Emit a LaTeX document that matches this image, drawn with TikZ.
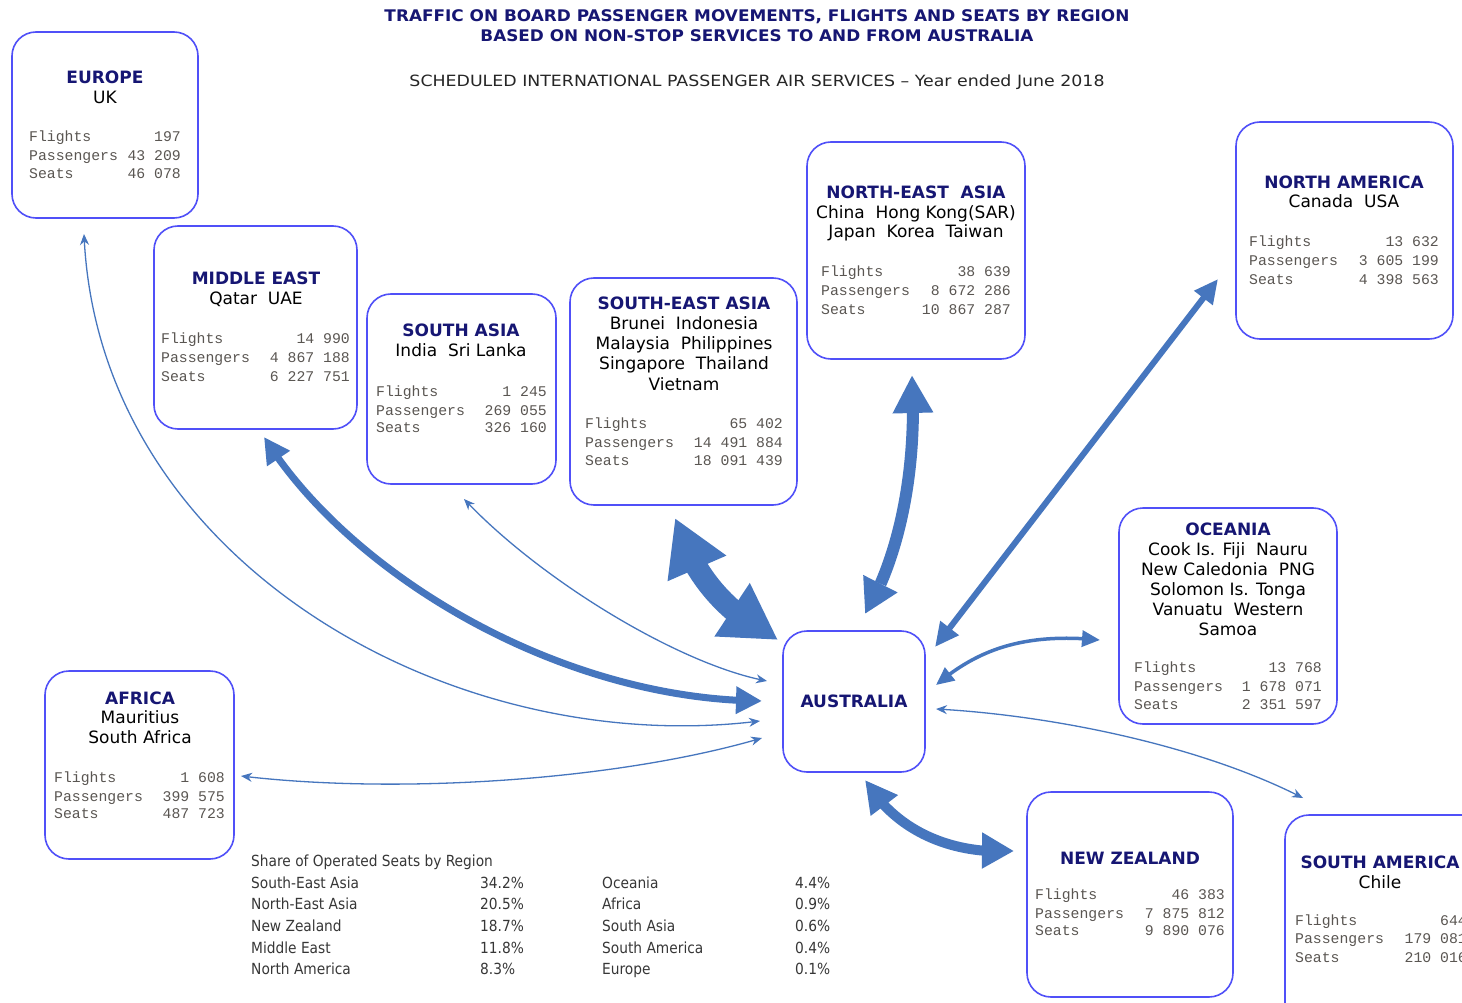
\documentclass[tikz,border=0pt]{standalone}
\usepackage{fontspec}
\setmainfont{DejaVu Sans}
\newfontfamily\condfont{DejaVu Sans Condensed}
\newfontfamily\monofont{Liberation Mono}
\usetikzlibrary{arrows.meta,bending}
\definecolor{boxblue}{RGB}{80,80,248}
\definecolor{navyc}{RGB}{22,22,115}
\definecolor{arrowblue}{RGB}{70,118,190}
\definecolor{statgray}{RGB}{90,86,82}
\definecolor{tablegray}{RGB}{55,55,55}
\newcommand{\statblk}[9]{%
 \node[lab] (#1-fl) at (#2,#4) {Flights};
 \node[num] (#1-fv) at (#3,#4) {#7};
 \node[lab] (#1-pl) at (#2,#5) {Passengers};
 \node[num] (#1-pv) at (#3,#5) {#8};
 \node[lab] (#1-sl) at (#2,#6) {Seats};
 \node[num] (#1-sv) at (#3,#6) {#9};
}
\tikzset{
 regbox/.style={draw=boxblue, line width=1.6pt, rounded corners=24pt, fill=white, inner sep=0pt},
 head/.style={font=\bfseries\fontsize{17}{20}\selectfont, text=navyc, anchor=mid, inner sep=0pt, yshift=-4pt},
 ctry/.style={font=\fontsize{17}{20}\selectfont, text=black, anchor=mid, inner sep=0pt, yshift=-4pt},
 lab/.style={font=\monofont\fontsize{14.8}{18}\selectfont, text=statgray, anchor=mid west, inner sep=0pt, yshift=-3pt},
 num/.style={font=\monofont\fontsize{14.8}{18}\selectfont, text=statgray, anchor=mid east, inner sep=0pt, yshift=-3pt},
 ttl/.style={font=\bfseries\fontsize{16}{20}\selectfont, text=navyc, anchor=mid, inner sep=0pt, yshift=-4pt},
 sub/.style={font=\fontsize{15.5}{20}\selectfont, text=black!85, anchor=mid, inner sep=0pt, yshift=-4pt},
 tab/.style={font=\condfont\fontsize{15.3}{18}\selectfont, text=tablegray, anchor=mid west, inner sep=0pt, yshift=-3pt},
 thinarr/.style={draw=arrowblue, line width=1.3pt, {Stealth[length=11pt,width=9pt]}-{Stealth[length=11pt,width=9pt]}},
 flowarr/.style={draw=arrowblue, line width=#1},
}
\begin{document}
\begin{tikzpicture}[x=1pt,y=-1pt]
\fill[white] (0,0) rectangle (1462,1003);
\useasboundingbox (0,0) rectangle (1462,1003);

% titles
\node[ttl] (t1) at (757,15) {\resizebox{745pt}{\height}{TRAFFIC ON BOARD PASSENGER MOVEMENTS, FLIGHTS AND SEATS BY REGION}};
\node[ttl] (t2) at (757,35) {\resizebox{553pt}{\height}{BASED ON NON-STOP SERVICES TO AND FROM AUSTRALIA}};
\node[sub] (t3) at (757,80) {\resizebox{695pt}{\height}{SCHEDULED INTERNATIONAL PASSENGER AIR SERVICES – Year ended June 2018}};

% boxes
\node[regbox, minimum width=186pt, minimum height=186pt] (eu) at (105,125) {};
\node[regbox, minimum width=203pt, minimum height=203pt] (me) at (255.5,327.5) {};
\node[regbox, minimum width=189pt, minimum height=190pt] (sa) at (461.5,389) {};
\node[regbox, minimum width=227pt, minimum height=227pt] (sea) at (683.5,391.5) {};
\node[regbox, minimum width=218pt, minimum height=217pt] (nea) at (916,250.5) {};
\node[regbox, minimum width=217pt, minimum height=217pt] (na) at (1344.5,230.5) {};
\node[regbox, minimum width=218pt, minimum height=216pt] (oc) at (1228,616) {};
\node[regbox, minimum width=189pt, minimum height=188pt] (af) at (139.5,765) {};
\node[regbox, minimum width=142pt, minimum height=141pt] (au) at (854,701.5) {};
\node[regbox, minimum width=206pt, minimum height=205pt] (nz) at (1130,894.5) {};
\node[regbox, minimum width=215pt, minimum height=225pt] (sam) at (1392.5,927.5) {};

% Europe
\node[head] (eu-h) at (105,77) {EUROPE};
\node[ctry] (eu-c1) at (105,97) {UK};
\statblk{eu}{29}{181}{136}{155}{173}{197}{43 209}{46 078}
% Middle East
\node[head] (me-h) at (256,278) {MIDDLE EAST};
\node[ctry] (me-c1) at (256,298) {Qatar\ \ UAE};
\statblk{me}{161}{350}{338}{357}{376}{14 990}{4 867 188}{6 227 751}
% South Asia
\node[head] (sa-h) at (461,330) {SOUTH ASIA};
\node[ctry] (sa-c1) at (461,350) {India\ \ Sri Lanka};
\statblk{sa}{376}{547}{391}{410}{427}{1 245}{269 055}{326 160}
% South-East Asia
\node[head] (sea-h) at (684,303) {SOUTH-EAST ASIA};
\node[ctry] (sea-c1) at (684,323) {Brunei\ \ Indonesia};
\node[ctry] (sea-c2) at (684,343) {Malaysia\ \ Philippines};
\node[ctry] (sea-c3) at (684,363) {Singapore\ \ Thailand};
\node[ctry] (sea-c4) at (684,384) {Vietnam};
\statblk{sea}{585}{783}{423}{442}{460}{65 402}{14 491 884}{18 091 439}
% North-East Asia
\node[head] (nea-h) at (916,192) {NORTH-EAST\ \ ASIA};
\node[ctry] (nea-c1) at (916,212) {China\ \ Hong Kong(SAR)};
\node[ctry] (nea-c2) at (916,231) {Japan\ \ Korea\ \ Taiwan};
\statblk{nea}{821}{1011}{271}{290}{309}{38 639}{8 672 286}{10 867 287}
% North America
\node[head] (na-h) at (1344,182) {NORTH AMERICA};
\node[ctry] (na-c1) at (1344,201) {Canada\ \ USA};
\statblk{na}{1249}{1439}{241}{260}{279}{13 632}{3 605 199}{4 398 563}
% Oceania
\node[head] (oc-h) at (1228,529) {OCEANIA};
\node[ctry] (oc-c1) at (1228,549) {Cook Is. Fiji\ \ Nauru};
\node[ctry] (oc-c2) at (1228,569) {New Caledonia\ \ PNG};
\node[ctry] (oc-c3) at (1228,589) {Solomon Is. Tonga};
\node[ctry] (oc-c4) at (1228,609) {Vanuatu\ \ Western};
\node[ctry] (oc-c5) at (1228,629) {Samoa};
\statblk{oc}{1134}{1322}{667}{686}{704}{13 768}{1 678 071}{2 351 597}
% Africa
\node[head] (af-h) at (140,698) {AFRICA};
\node[ctry] (af-c1) at (140,717) {Mauritius};
\node[ctry] (af-c2) at (140,737) {South Africa};
\statblk{af}{54}{225}{777}{796}{813}{1 608}{399 575}{487 723}
% Australia
\node[head] (au-h) at (854,701) {AUSTRALIA};
% New Zealand
\node[head] (nz-h) at (1130,858) {NEW ZEALAND};
\statblk{nz}{1035}{1225}{894}{913}{930}{46 383}{7 875 812}{9 890 076}
% South America
\node[head] (sam-h) at (1380,862) {SOUTH AMERICA};
\node[ctry] (sam-c1) at (1380,882) {Chile};
\statblk{sam}{1295}{1467}{920}{938}{957}{644}{179 081}{210 016}

% table
\node[tab] (tb-h) at (251,861) {Share of Operated Seats by Region};
\node[tab] (tb-a1) at (251,883) {South-East Asia};
\node[tab] (tb-a2) at (251,904) {North-East Asia};
\node[tab] (tb-a3) at (251,926) {New Zealand};
\node[tab] (tb-a4) at (251,948) {Middle East};
\node[tab] (tb-a5) at (251,969) {North America};
\node[tab] (tb-b1) at (480,883) {34.2\%};
\node[tab] (tb-b2) at (480,904) {20.5\%};
\node[tab] (tb-b3) at (480,926) {18.7\%};
\node[tab] (tb-b4) at (480,948) {11.8\%};
\node[tab] (tb-b5) at (480,969) {8.3\%};
\node[tab] (tb-c1) at (602,883) {Oceania};
\node[tab] (tb-c2) at (602,904) {Africa};
\node[tab] (tb-c3) at (602,926) {South Asia};
\node[tab] (tb-c4) at (602,948) {South America};
\node[tab] (tb-c5) at (602,969) {Europe};
\node[tab] (tb-d1) at (795,883) {4.4\%};
\node[tab] (tb-d2) at (795,904) {0.9\%};
\node[tab] (tb-d3) at (795,926) {0.6\%};
\node[tab] (tb-d4) at (795,948) {0.4\%};
\node[tab] (tb-d5) at (795,969) {0.1\%};

% connector end points
\coordinate (eu-a) at (84,234);   \coordinate (au-eu) at (760,721);
\coordinate (me-a) at (264,437);  \coordinate (au-me) at (762,701);
\coordinate (sa-a) at (464,499);  \coordinate (au-sa) at (767,681);
\coordinate (af-a) at (241,776);  \coordinate (au-af) at (762,738);
\coordinate (sea-a) at (675,518); \coordinate (au-sea) at (778,640);
\coordinate (nea-a) at (912,375); \coordinate (au-nea) at (865,614);
\coordinate (na-a) at (1218,279); \coordinate (au-na) at (935,647);
\coordinate (oc-a) at (1100,640); \coordinate (au-oc) at (936,685);
\coordinate (sam-a) at (1303,798);\coordinate (au-sam) at (936,709);
\coordinate (nz-a) at (1014,851); \coordinate (au-nz) at (865,780);

% connectors
\draw[thinarr] (eu-a) .. controls (97,560) and (450,760) .. (au-eu);
\draw[thinarr] (sa-a) .. controls (540,580) and (680,665) .. (au-sa);
\draw[thinarr] (af-a) .. controls (400,795) and (620,780) .. (au-af);
\draw[thinarr] (au-sam) .. controls (1050,715) and (1200,745) .. (sam-a);
\draw[flowarr=7pt, {Triangle[length=26pt,width=26pt]}-{Triangle[length=26pt,width=26pt]}]
  (me-a) .. controls (350,575) and (560,700) .. (au-me);
\draw[flowarr=22pt, {Triangle[length=55pt,width=60pt]}-{Triangle[length=55pt,width=60pt]}]
  (sea-a) .. controls (694,579) and (729,615) .. (au-sea);
\draw[flowarr=12pt, {Triangle[length=38pt,width=38pt]}-{Triangle[length=34pt,width=36pt]}]
  (nea-a) .. controls (918,480) and (895,565) .. (au-nea);
\draw[flowarr=6pt, {Triangle[length=24pt,width=22pt]}-{Triangle[length=24pt,width=22pt]}]
  (au-na) -- (na-a);
\draw[flowarr=3.5pt, {Triangle[length=18pt,width=16pt]}-{Triangle[length=18pt,width=16pt]}]
  (au-oc) .. controls (975,652) and (1020,632) .. (oc-a);
\draw[flowarr=10pt, {Triangle[length=32pt,width=32pt]}-{Triangle[length=32pt,width=34pt]}]
  (au-nz) .. controls (895,830) and (950,855) .. (nz-a);
\end{tikzpicture}
\end{document}
